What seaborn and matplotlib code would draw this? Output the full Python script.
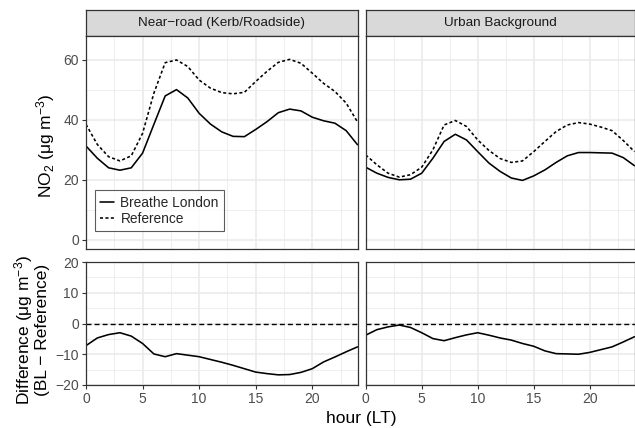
import numpy as np
import pandas as pd
import matplotlib
matplotlib.use("Agg")
import matplotlib.pyplot as plt
from matplotlib.lines import Line2D
from matplotlib.ticker import MultipleLocator
import seaborn as sns

# ---------------- data ----------------
hours = list(range(0, 25))

near_bl = [31.3, 27.2, 24.0, 23.2, 24.0, 28.9, 38.5, 48.0, 50.1, 47.3, 42.2, 38.6, 36.0,
           34.5, 34.4, 36.8, 39.4, 42.4, 43.6, 43.0, 40.9, 39.7, 38.9, 36.4, 31.7]
near_ref = [38.5, 31.8, 27.7, 26.3, 28.0, 35.5, 48.9, 59.1, 60.0, 57.8, 53.3, 50.6, 49.1,
            48.7, 49.2, 52.8, 56.2, 59.2, 60.2, 58.9, 55.6, 52.2, 49.5, 45.6, 39.3]
near_diff = [-7.2, -4.7, -3.6, -3.0, -4.1, -6.5, -9.9, -10.8, -9.8, -10.3, -10.8, -11.7, -12.6,
             -13.6, -14.7, -15.8, -16.3, -16.7, -16.6, -15.9, -14.7, -12.5, -10.9, -9.2, -7.6]

urban_bl = [24.2, 22.2, 20.8, 20.0, 20.2, 22.2, 27.2, 32.8, 35.2, 33.3, 29.4, 25.6, 22.8,
            20.6, 19.8, 21.3, 23.3, 25.8, 28.0, 29.1, 29.1, 29.0, 28.9, 27.4, 24.7]
urban_ref = [28.3, 25.0, 22.2, 20.9, 21.7, 24.2, 30.0, 38.3, 39.8, 37.8, 33.3, 29.8, 27.1,
             25.8, 26.3, 29.4, 32.8, 36.1, 38.3, 39.1, 38.6, 37.6, 36.4, 33.1, 29.4]
urban_diff = [-3.8, -2.0, -1.1, -0.5, -1.3, -3.0, -4.9, -5.6, -4.6, -3.7, -3.0, -3.8, -4.7,
              -5.4, -6.5, -7.4, -8.9, -9.8, -9.9, -10.0, -9.4, -8.5, -7.6, -6.0, -4.3]

site_labels = ["Near\u2212road (Kerb/Roadside)", "Urban Background"]
series_labels = ["Breathe London", "Reference"]
x_ticks = [0, 5, 10, 15, 20]
top_yticks = [0, 20, 40, 60]
bot_yticks = [-20, -10, 0, 10, 20]

# ---------------- style ----------------
sns.set_theme(style="white")
plt.rcParams["font.family"] = ["Liberation Sans", "DejaVu Sans"]
plt.rcParams["mathtext.fontset"] = "custom"
plt.rcParams["mathtext.rm"] = "Liberation Sans"
plt.rcParams["mathtext.it"] = "Liberation Sans:italic"
plt.rcParams["mathtext.bf"] = "Liberation Sans:bold"
plt.rcParams["axes.unicode_minus"] = True

W, H = 635, 428
fig = plt.figure(figsize=(W / 100, H / 100), dpi=100)

def frac_box(x0, y0, x1, y1):
    return [x0 / W, 1 - y1 / H, (x1 - x0) / W, (y1 - y0) / H]

col_x = [(86, 357.5), (365.7, 634.5)]
top_y = (35.7, 249)
bot_y = (262, 385)
strip_y = (9.5, 35.7)

BORDER = "#333333"
GRID = "#EBEBEB"
TICKC = "#4D4D4D"
LW = 1.15
REF_LS = (0, (1.9, 1.5))
ZERO_LS = (0, (3.6, 2.2))

def style_ax(ax, ylim, yticks, yminor, show_y, show_x):
    ax.set_facecolor("white")
    ax.set_xlim(0, 24)
    ax.set_ylim(*ylim)
    ax.set_xticks(x_ticks)
    ax.xaxis.set_minor_locator(MultipleLocator(2.5))
    ax.set_yticks(yticks)
    ax.yaxis.set_minor_locator(MultipleLocator(yminor))
    ax.grid(which="major", color=GRID, lw=1.2)
    ax.grid(which="minor", color=GRID, lw=0.6)
    ax.set_axisbelow(True)
    for s in ax.spines.values():
        s.set_color(BORDER)
        s.set_linewidth(0.9)
    ax.tick_params(which="minor", length=0)
    ax.tick_params(axis="y", which="major", left=show_y, labelleft=show_y,
                   length=2.7, width=0.8, color=BORDER, labelsize=10,
                   labelcolor=TICKC, pad=2.5)
    ax.tick_params(axis="x", which="major", bottom=show_x, labelbottom=show_x,
                   length=2.7, width=0.8, color=BORDER, labelsize=10,
                   labelcolor=TICKC, pad=2.0)
    ax.set_xlabel("")
    ax.set_ylabel("")

data_top = [(near_bl, near_ref), (urban_bl, urban_ref)]
data_bot = [near_diff, urban_diff]

for i in range(2):
    x0, x1 = col_x[i]
    # strip
    sax = fig.add_axes(frac_box(x0, strip_y[0], x1, strip_y[1]))
    sax.set_facecolor("#D9D9D9")
    sax.set_xticks([]); sax.set_yticks([])
    for s in sax.spines.values():
        s.set_color(BORDER); s.set_linewidth(0.9)
    sax.text(0.5, 0.5, site_labels[i], ha="center", va="center",
             fontsize=9.7, color="#1A1A1A", transform=sax.transAxes)

    # top panel
    ax = fig.add_axes(frac_box(x0, top_y[0], x1, top_y[1]))
    bl, ref = data_top[i]
    df = pd.DataFrame({"hour": hours, "bl": bl, "ref": ref})
    sns.lineplot(data=df, x="hour", y="bl", ax=ax, color="black", lw=LW, legend=False)
    sns.lineplot(data=df, x="hour", y="ref", ax=ax, color="black", lw=LW,
                 linestyle=REF_LS, legend=False)
    style_ax(ax, (-3.1, 68.1), top_yticks, 10, show_y=(i == 0), show_x=False)
    if i == 0:
        handles = [Line2D([], [], color="black", lw=LW),
                   Line2D([], [], color="black", lw=LW, linestyle=REF_LS)]
        leg = ax.legend(handles, series_labels, loc="lower left",
                        bbox_to_anchor=(0.033, 0.084), borderaxespad=0,
                        fontsize=9.9, frameon=True, fancybox=False,
                        handlelength=1.0, handletextpad=0.45,
                        labelspacing=0.12, borderpad=0.4)
        leg.get_frame().set_edgecolor(BORDER)
        leg.get_frame().set_linewidth(0.8)

    # bottom panel
    bx = fig.add_axes(frac_box(x0, bot_y[0], x1, bot_y[1]))
    dfd = pd.DataFrame({"hour": hours, "diff": data_bot[i]})
    bx.axhline(0, color="black", lw=1.0, linestyle=ZERO_LS)
    sns.lineplot(data=dfd, x="hour", y="diff", ax=bx, color="black", lw=LW, legend=False)
    style_ax(bx, (-20, 20), bot_yticks, 5, show_y=(i == 0), show_x=True)

# axis titles
fig.text(46 / W, 1 - 146 / H, "NO$_2$ (\u03bcg m$^{-3}$)", rotation=90,
         ha="center", va="center", fontsize=12.5, color="black")
fig.text(31 / W, 1 - 330 / H, "Difference (\u03bcg m$^{-3}$)\n(BL \u2212 Reference)",
         rotation=90, ha="center", va="center", fontsize=12.5, color="black",
         multialignment="center", linespacing=1.0)
fig.text(361 / W, 1 - 418 / H, "hour (LT)", ha="center", va="center",
         fontsize=12.5, color="black")

fig.savefig("out.png", dpi=100)
